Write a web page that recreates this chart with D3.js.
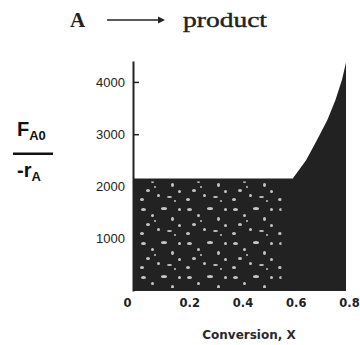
<!DOCTYPE html>
<html>
<head>
<meta charset="utf-8">
<script src="https://cdn.jsdelivr.net/npm/d3@7"></script>
<style>
  html, body { margin: 0; padding: 0; background: #fff; }
  svg { display: block; }
</style>
</head>
<body>
<svg id="chart" width="360" height="345"></svg>
<script>
// ---- data ----
const conversion = [0, 0.6, 0.65, 0.69, 0.73, 0.76, 0.785, 0.8];
const levenspiel = [2150, 2150, 2500, 2880, 3270, 3650, 4040, 4370];
const xTicks = [0, 0.2, 0.4, 0.6, 0.8];
const yTicks = [1000, 2000, 3000, 4000];

const svg = d3.select("#chart");
const x = d3.scaleLinear().domain([0, 0.8]).range([133, 346]);
const y = d3.scaleLinear().domain([0, 4400]).range([291, 61]);

const data = conversion.map((c, i) => ({ x: c, v: levenspiel[i] }));

// speckle texture
const defs = svg.append("defs");
const pat = defs.append("pattern").attr("id", "speck")
  .attr("patternUnits", "userSpaceOnUse")
  .attr("width", 46).attr("height", 34);
const specks = [[3,4,5,3],[13,10,3,3],[23,3,6,3],[33,13,3,4],[8,19,4,3],[19,24,3,3],[29,26,5,2],[40,4,3,3],[16,16,2,2],[2,28,4,3],[40,20,3,3],[36,30,2,2]];
pat.selectAll("ellipse").data(specks).join("ellipse")
  .attr("cx", d => d[0] + d[2] / 2).attr("cy", d => d[1] + d[3] / 2)
  .attr("rx", d => d[2] / 2).attr("ry", d => d[3] / 2)
  .attr("fill", "#eeeeee");
defs.append("clipPath").attr("id", "flatclip")
  .append("rect").attr("x", x(0) + 2).attr("y", y(2150) + 3)
  .attr("width", x(0.55) - x(0)).attr("height", y(0) - y(2150) - 6);

const area = d3.area().x(d => x(d.x)).y0(y(0)).y1(d => y(d.v));
svg.append("path").datum(data).attr("d", area).attr("fill", "#222222");
svg.append("path").datum(data).attr("d", area)
  .attr("fill", "url(#speck)").attr("clip-path", "url(#flatclip)").attr("opacity", 0.8);

// y axis
const yAxis = d3.axisLeft(y).tickValues(yTicks).tickSizeInner(-6).tickSizeOuter(0).tickPadding(8)
  .tickFormat(d3.format("d"));
const gy = svg.append("g").attr("transform", `translate(${x(0)},0)`).call(yAxis);
gy.select(".domain").attr("stroke", "#222").attr("stroke-width", 2);
gy.selectAll(".tick line").attr("stroke", "#222").attr("stroke-width", 1.5);
gy.selectAll(".tick text").attr("font-family", "Arial, 'Liberation Sans', sans-serif")
  .attr("font-size", 13).attr("fill", "#222");

// x axis
const xAxis = d3.axisBottom(x).tickValues(xTicks).tickSize(0).tickPadding(8)
  .tickFormat(d => d === 0 ? "0" : d3.format(".1f")(d));
const gx = svg.append("g").attr("transform", `translate(0,${y(0)})`).call(xAxis);
gx.select(".domain").remove();
gx.selectAll(".tick text").attr("font-family", "'DejaVu Sans', sans-serif")
  .attr("font-size", 11.5).attr("font-weight", "bold").attr("fill", "#222")
  .attr("dx", d => d === 0 ? -6 : 3);

// x label
svg.append("text").attr("x", 249).attr("y", 339).attr("text-anchor", "middle")
  .attr("font-family", "'DejaVu Sans', sans-serif").attr("font-size", 12)
  .attr("font-weight", "bold").attr("fill", "#2a2a2a").text("Conversion, X");

// y label fraction
const yl = svg.append("g").attr("font-family", "Arial, 'Liberation Sans', sans-serif")
  .attr("font-weight", "bold").attr("fill", "#111");
const t1 = yl.append("text").attr("x", 17).attr("y", 136).attr("font-size", 20);
t1.append("tspan").text("F");
t1.append("tspan").attr("font-size", 13).attr("dy", 4).text("A0");
yl.append("rect").attr("x", 13).attr("y", 152.5).attr("width", 40).attr("height", 2.5);
const t2 = yl.append("text").attr("x", 17).attr("y", 177).attr("font-size", 20);
t2.append("tspan").text("-r");
t2.append("tspan").attr("font-size", 13).attr("dy", 4).text("A");

// title
const tt = svg.append("g").attr("font-family", "'Liberation Serif', serif")
  .attr("fill", "#222");
tt.append("text").attr("x", 70).attr("y", 27).attr("font-size", 21).attr("font-weight", "bold").text("A");
tt.append("line").attr("x1", 107).attr("x2", 160).attr("y1", 20).attr("y2", 20)
  .attr("stroke", "#222").attr("stroke-width", 1.5);
tt.append("path").attr("d", "M158,16.5 L165,20 L158,23.5 Z").attr("fill", "#222");
tt.append("text").attr("x", 183).attr("y", 27).attr("font-size", 21)
  .attr("stroke", "#222").attr("stroke-width", 0.4)
  .attr("textLength", 84).attr("lengthAdjust", "spacingAndGlyphs").text("product");
</script>
</body>
</html>
